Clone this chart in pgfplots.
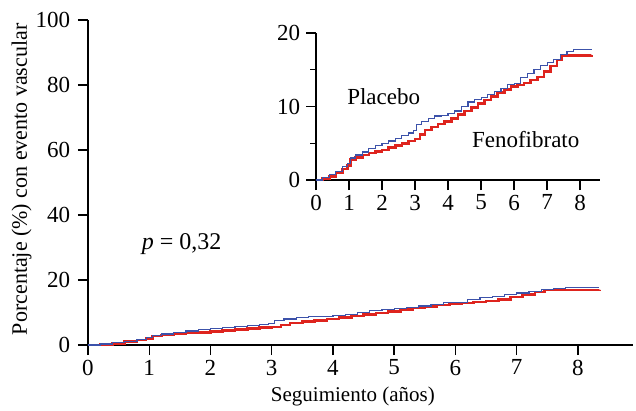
\documentclass[border=0pt]{standalone}
\usepackage{fontspec}
\setmainfont{Liberation Serif}
\usepackage{pgfplots}
\pgfplotsset{compat=1.18}
\definecolor{plac}{RGB}{60,82,170}
\definecolor{feno}{RGB}{222,36,30}

\pgfplotstableread{
x y
0 0
0.2 0.3
0.4 0.7
0.6 1.2
0.8 1.8
0.95 2.2
1.05 3.0
1.2 3.4
1.4 3.8
1.6 4.3
1.8 4.7
2.0 5.0
2.2 5.3
2.4 5.7
2.6 6.1
2.8 6.4
2.95 6.7
3.05 7.5
3.2 8.0
3.4 8.4
3.6 8.7
3.8 8.8
4.0 9.1
4.2 9.4
4.4 10.0
4.6 10.6
4.8 11.0
5.0 11.2
5.2 11.6
5.4 12.0
5.6 12.5
5.8 13.0
6.0 13.1
6.2 14.0
6.4 14.5
6.6 15.0
6.8 15.6
7.0 16.0
7.2 16.4
7.4 17.1
7.6 17.5
7.8 17.8
8.35 17.8
}\placebo

\pgfplotstableread{
x y
0 0
0.2 0.2
0.4 0.5
0.6 1.0
0.8 1.5
0.95 2.0
1.05 2.8
1.2 3.1
1.4 3.4
1.6 3.7
1.8 3.9
2.0 4.1
2.2 4.4
2.4 4.7
2.6 5.0
2.8 5.3
3.0 5.6
3.15 6.2
3.3 6.8
3.5 7.2
3.7 7.6
3.9 8.0
4.1 8.4
4.3 8.9
4.5 9.4
4.7 9.9
4.9 10.4
5.1 10.9
5.3 11.4
5.5 11.9
5.7 12.3
5.9 12.7
6.1 12.9
6.3 13.2
6.5 13.6
6.7 14.0
6.9 14.8
7.1 15.5
7.3 16.3
7.45 16.9
8.35 17.0
}\fenofibrato

\pgfplotsset{
  kmstyle/.style={
    scale only axis,
    axis lines=left,
    axis line style={-, line width=1.6pt},
    tick align=outside,
    tick style={line width=1.4pt, black},
    major tick length=10pt,
    minor tick length=6pt,
    /pgf/number format/assume math mode=true,
    /pgf/number format/1000 sep={},
    every tick label/.append style={font=\fontsize{23}{26}\selectfont},
  }
}

\begin{document}
\fontsize{23}{26}\selectfont
\begin{tikzpicture}[font=\fontsize{23}{26}\selectfont]
\useasboundingbox (-88pt,-65pt) rectangle (548pt,345pt);
\begin{axis}[
  kmstyle,
  at={(0pt,0pt)}, anchor=south west,
  width=545pt, height=325pt,
  xmin=0, xmax=8.9, ymin=0, ymax=100,
  xtick={0,1,...,8}, ytick={0,20,...,100},
  xlabel={Seguimiento (años)},
  ylabel={Porcentaje (\%) con evento vascular},
  xlabel style={font=\fontsize{21}{24}\selectfont, at={(axis description cs:0.486,-0.174)}, anchor=base},
  ylabel style={font=\fontsize{22}{25}\selectfont, at={(axis description cs:-0.122,0.51)}, anchor=center},
  xticklabel style={yshift=3pt},
  yticklabel style={xshift=0pt},
  clip=false,
]
\addplot[const plot, color=feno, line width=2.6pt] table[x=x, y=y] {\fenofibrato};
\addplot[const plot, color=plac, line width=1.2pt] table[x=x, y=y] {\placebo};
\node[font=\fontsize{24}{27}\selectfont] at (axis cs:1.53,31) {\textit{p} = 0,32};
\end{axis}

\begin{axis}[
  kmstyle,
  at={(228pt,165pt)}, anchor=south west,
  width=284pt, height=147pt,
  xmin=0, xmax=8.6, ymin=0, ymax=20,
  xtick={0,1,...,8}, ytick={0,10,20},
  minor ytick={5,15},
  xticklabel style={yshift=3pt},
  yticklabel style={xshift=2pt},
  clip=false,
]
\addplot[const plot, color=feno, line width=2.6pt] table[x=x, y=y] {\fenofibrato};
\addplot[const plot, color=plac, line width=1.2pt] table[x=x, y=y] {\placebo};
\node[font=\fontsize{23}{26}\selectfont] at (axis cs:2.05,11.4) {Placebo};
\node[font=\fontsize{23}{26}\selectfont] at (axis cs:6.35,5.5) {Fenofibrato};
\end{axis}
\end{tikzpicture}
\end{document}
